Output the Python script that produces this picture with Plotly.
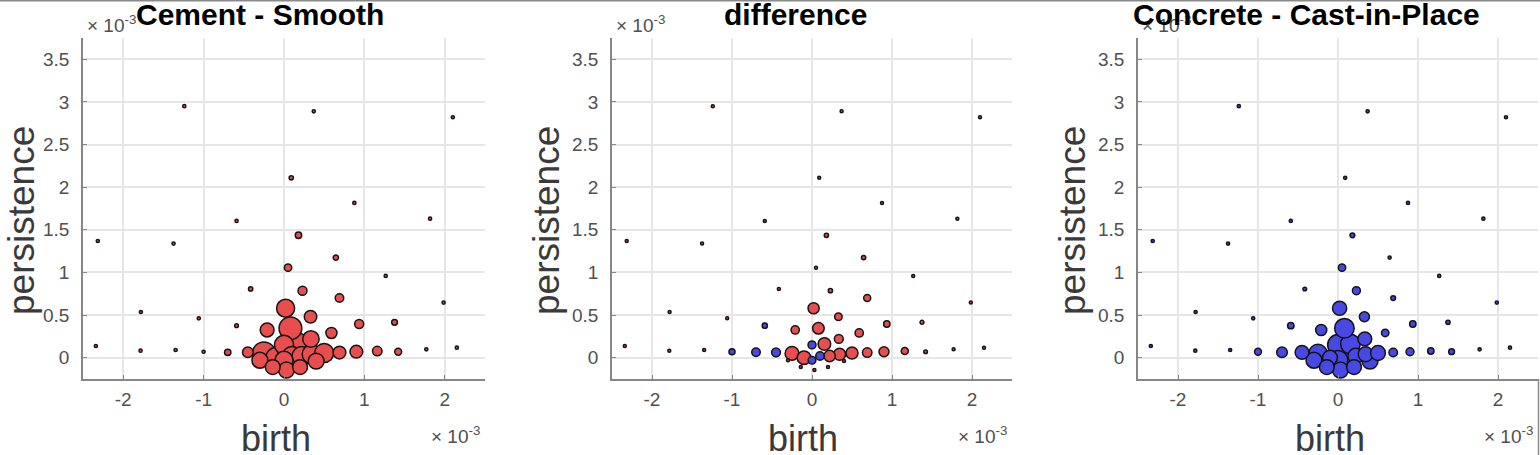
import plotly.graph_objects as go

# ---------------- data (birth / persistence in units of 1e-3) ----------------
birth = [-1.24, 0.37, 2.10, 0.09, 0.875, -0.59, 1.817, -2.316, -1.374, 0.18,
         0.645, 0.05, 1.265, -0.415, 0.23, 0.69, -1.78, 1.985, -1.06, -0.59,
         0.02, 0.33, 0.935, 1.375, -0.21, 0.08, 0.59, 0.335, -2.34, -1.784,
         -1.348, -1.0, -0.70, -0.45, 1.77, 2.15, -0.25, -0.10, 0.0, 0.0,
         0.1, 0.155, 0.22, 0.345, 0.5, 0.69, 0.9, 1.16, 1.42, 0.03,
         -0.14, 0.2, -0.3, 0.4]
persistence = [2.95, 2.89, 2.82, 2.11, 1.815, 1.604, 1.631, 1.369, 1.338, 1.436,
               1.174, 1.056, 0.959, 0.806, 0.786, 0.70, 0.536, 0.646, 0.462, 0.376,
               0.58, 0.48, 0.395, 0.415, 0.325, 0.345, 0.29, 0.22, 0.137, 0.082,
               0.09, 0.07, 0.063, 0.063, 0.098, 0.117, 0.05, 0.0, 0.15, -0.03,
               0.02, 0.16, 0.02, 0.04, 0.055, 0.06, 0.07, 0.078, 0.07, -0.145,
               -0.11, -0.11, -0.03, -0.04]
# point weights (scatter area) for the two surfaces
weight_cement = [9, 9, 9, 16, 9, 9, 9, 9, 9, 36,
                 25, 49, 9, 16, 72, 64, 9, 9, 9, 12,
                 290, 140, 72, 30, 170, 460, 110, 240, 9, 9,
                 9, 9, 36, 100, 9, 9, 470, 361, 324, 289,
                 324, 484, 324, 324, 324, 144, 144, 81, 42, 225,
                 196, 196, 225, 225]
weight_concrete = [9, 9, 9, 9, 9, 9, 9, 9, 9, 20,
                   9, 49, 9, 12, 56, 20, 9, 9, 9, 36,
                   180, 90, 36, 16, 110, 340, 49, 170, 9, 9,
                   9, 42, 100, 169, 9, 9, 300, 196, 380, 342,
                   388, 342, 210, 196, 196, 64, 56, 36, 30, 225,
                   196, 196, 225, 225]

titles = ["Cement - Smooth", "difference", "Concrete - Cast-in-Place"]
x_ticks = [-2, -1, 0, 1, 2]
x_tick_labels = ["-2", "-1", "0", "1", "2"]
y_ticks = [0, 0.5, 1, 1.5, 2, 2.5, 3, 3.5]
y_tick_labels = ["0", "0.5", "1", "1.5", "2", "2.5", "3", "3.5"]
x_label = "birth"
y_label = "persistence"
exponent_label = "× 10<sup>-3</sup>"

# ---------------- styling / layout ----------------
W, H = 1540, 455
RED = "rgb(232,78,78)"
BLUE = "rgb(72,72,228)"
EDGE = "#141414"
TICK_COLOR = "#505050"
LABEL_COLOR = "#3a3a3a"
FONT = "Liberation Sans, Arial, sans-serif"
SIZE_SCALE = 1.06

# plot-area pixel boxes (left, right) and vertical (top, bottom)
panels_px = [(83, 485), (612, 1012), (1138, 1538)]
top_px, bottom_px = 38, 379
title_cx = [260, 795, 1306]
ylabel_cx = [21, 546, 1072]
xlabel_cx = [276, 803, 1330]


def px_x(v):
    return v / W


def px_y(v):
    return 1 - v / H


fig = go.Figure()


def add_points(idx, colors, weights):
    order = sorted(range(len(birth)), key=lambda i: -weights[i])
    fig.add_trace(go.Scatter(
        x=[birth[i] for i in order],
        y=[persistence[i] for i in order],
        mode="markers",
        marker=dict(
            size=[max(weights[i] ** 0.5 * SIZE_SCALE, 3) for i in order],
            color=[colors[i] for i in order],
            line=dict(color=EDGE, width=1.5),
            opacity=1,
        ),
        xaxis=f"x{idx if idx > 1 else ''}",
        yaxis=f"y{idx if idx > 1 else ''}",
        showlegend=False,
        hoverinfo="skip",
    ))


# panel 1: cement
add_points(1, [RED] * len(birth), weight_cement)
# panel 2: difference
diff = [a - b for a, b in zip(weight_cement, weight_concrete)]
add_points(2, [RED if d >= 0 else BLUE for d in diff], [abs(d) for d in diff])
# panel 3: concrete
add_points(3, [BLUE] * len(birth), weight_concrete)

layout = dict(
    width=W, height=H,
    margin=dict(l=0, r=0, t=0, b=0),
    paper_bgcolor="white", plot_bgcolor="white",
    font=dict(family=FONT),
    showlegend=False,
)

annotations = []
shapes = []
for k, (l, r) in enumerate(panels_px):
    sfx = "" if k == 0 else str(k + 1)
    layout[f"xaxis{sfx}"] = dict(
        domain=[px_x(l), px_x(r)],
        anchor=f"y{sfx}",
        range=[-2.5, 2.5],
        tickvals=x_ticks, ticktext=x_tick_labels,
        showgrid=True, gridcolor="#e6e6e6", gridwidth=1.5,
        zeroline=False,
        showline=True, linecolor="#868686", linewidth=1.5,
        ticks="inside", ticklen=4, tickcolor="#868686",
        tickfont=dict(size=19, color=TICK_COLOR, family=FONT),
        ticklabelstandoff=2,
        fixedrange=True,
    )
    layout[f"yaxis{sfx}"] = dict(
        domain=[px_y(bottom_px), px_y(top_px)],
        anchor=f"x{sfx}",
        range=[-0.25, 3.75],
        tickvals=y_ticks, ticktext=y_tick_labels,
        showgrid=True, gridcolor="#e6e6e6", gridwidth=1.5,
        zeroline=False,
        showline=True, linecolor="#868686", linewidth=1.5,
        ticks="inside", ticklen=4, tickcolor="#868686",
        tickfont=dict(size=19, color=TICK_COLOR, family=FONT),
        ticklabelstandoff=8,
        fixedrange=True,
    )
    # exponent labels
    annotations.append(dict(
        text=exponent_label, xref="paper", yref="paper",
        x=px_x(l + 2), y=px_y(38), xanchor="left", yanchor="bottom",
        showarrow=False, font=dict(size=19, color=TICK_COLOR, family=FONT)))
    annotations.append(dict(
        text=exponent_label, xref="paper", yref="paper",
        x=px_x(r - 3), y=px_y(449), xanchor="right", yanchor="bottom",
        showarrow=False, font=dict(size=19, color=TICK_COLOR, family=FONT)))
    # titles
    annotations.append(dict(
        text=f"<b>{titles[k]}</b>", xref="paper", yref="paper",
        x=px_x(title_cx[k]), y=px_y(15), xanchor="center", yanchor="middle",
        showarrow=False, font=dict(size=30, color="black", family=FONT)))
    # axis labels
    annotations.append(dict(
        text=x_label, xref="paper", yref="paper",
        x=px_x(xlabel_cx[k]), y=px_y(438), xanchor="center", yanchor="middle",
        showarrow=False, font=dict(size=36, color=LABEL_COLOR, family=FONT)))
    annotations.append(dict(
        text=y_label, xref="paper", yref="paper", textangle=-90,
        x=px_x(ylabel_cx[k]), y=px_y(221), xanchor="center", yanchor="middle",
        showarrow=False, font=dict(size=37, color=LABEL_COLOR, family=FONT)))

# frame lines of the figure (top edge, right edge below last axis)
shapes.append(dict(type="line", xref="paper", yref="paper",
                   x0=0, x1=1, y0=px_y(0.7), y1=px_y(0.7),
                   line=dict(color="#8a8a8a", width=1.5)))
shapes.append(dict(type="line", xref="paper", yref="paper",
                   x0=px_x(1538.5), x1=px_x(1538.5), y0=px_y(bottom_px), y1=0,
                   line=dict(color="#8a8a8a", width=1.5)))

layout["annotations"] = annotations
layout["shapes"] = shapes
fig.update_layout(**layout)

fig.write_html("out.html")
